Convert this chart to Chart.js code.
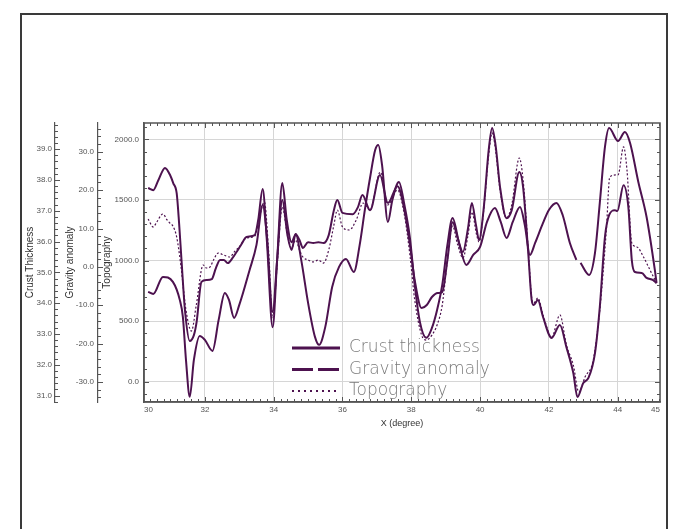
<!DOCTYPE html>
<html>
<head>
<meta charset="utf-8">
<script src="https://cdn.jsdelivr.net/npm/chart.js@4.4.1/dist/chart.umd.min.js"></script>
<style>
  html, body { margin: 0; padding: 0; background: #fff; }
  body { width: 678px; height: 529px; position: relative; overflow: hidden; }
  #frame { position: absolute; left: 20px; top: 13px; width: 644px; height: 540px;
           border: 2px solid #3a3a3a; border-bottom: none; }
  #c { position: absolute; left: 0; top: 0; }
</style>
</head>
<body>
<div id="frame"></div>
<canvas id="c" width="678" height="529"></canvas>
<script>
// Profile along the section, longitude in degrees
const crustDeg = [30.35, 30.5, 30.65, 30.84, 31.0, 31.08, 31.18, 31.25, 31.32, 31.42, 31.56, 31.68, 31.76, 31.9, 32.05, 32.2, 32.32, 32.44, 32.55, 32.67, 32.8, 32.92, 33.05, 33.21, 33.45, 33.55, 33.68, 33.8, 33.97, 34.1, 34.25, 34.38, 34.52, 34.64, 34.75, 34.85, 35.0, 35.15, 35.3, 35.45, 35.6, 35.75, 35.85, 36.0, 36.3, 36.45, 36.58, 36.8, 37.09, 37.32, 37.6, 37.8, 37.96, 38.1, 38.3, 38.45, 38.6, 38.77, 38.9, 39.05, 39.2, 39.35, 39.5, 39.65, 39.76, 39.88, 39.97, 40.1, 40.25, 40.35, 40.45, 40.58, 40.77, 40.92, 41.14, 41.25, 41.4, 41.5, 41.56, 41.68, 41.83, 42.08, 42.32, 42.51, 42.71, 42.83, 43.0, 43.15, 43.34, 43.48, 43.63, 43.75, 43.92, 43.99, 44.17, 44.31, 44.41, 44.5, 44.7, 44.84, 45.03, 45.13];
const crustKm = [37.74, 37.67, 38.00, 38.39, 38.13, 37.90, 37.57, 36.60, 35.40, 33.78, 32.77, 32.96, 33.39, 34.69, 34.75, 34.78, 35.14, 35.40, 35.40, 35.30, 35.46, 35.66, 35.89, 36.15, 36.21, 36.70, 37.71, 36.05, 33.22, 35.40, 37.90, 36.70, 35.98, 36.24, 36.05, 35.79, 35.98, 35.95, 35.98, 35.95, 36.21, 37.02, 37.35, 36.93, 36.89, 37.12, 37.51, 37.02, 38.16, 37.25, 37.80, 37.02, 35.89, 34.75, 33.84, 33.94, 34.20, 34.33, 34.36, 35.40, 36.63, 36.11, 35.66, 36.44, 37.25, 36.54, 36.05, 37.02, 38.97, 39.69, 39.13, 37.77, 36.76, 37.02, 38.26, 37.77, 35.63, 34.10, 33.94, 34.10, 33.55, 32.87, 33.29, 32.57, 31.73, 30.95, 31.41, 31.57, 32.38, 33.87, 36.15, 36.86, 37.02, 36.99, 37.83, 37.12, 35.40, 35.01, 34.98, 34.82, 34.75, 34.65];

// the gravity profile has a short break near 42.86
const gravDeg = [30.35, 30.5, 30.78, 31.07, 31.27, 31.36, 31.45, 31.56, 31.68, 31.85, 32.0, 32.22, 32.4, 32.58, 32.7, 32.85, 33.0, 33.3, 33.5, 33.68, 33.8, 33.97, 34.1, 34.25, 34.4, 34.52, 34.64, 34.8, 35.0, 35.2, 35.32, 35.5, 35.7, 35.9, 36.1, 36.33, 36.5, 36.65, 36.8, 36.95, 37.04, 37.15, 37.32, 37.45, 37.64, 37.8, 37.96, 38.1, 38.25, 38.44, 38.6, 38.75, 38.9, 39.05, 39.2, 39.4, 39.6, 39.8, 40.0, 40.2, 40.43, 40.6, 40.77, 40.95, 41.16, 41.3, 41.45, 41.6, 41.83, 42.0, 42.22, 42.4, 42.61, 42.8, 42.86, 42.92, 43.17, 43.34, 43.48, 43.63, 43.75, 44.01, 44.21, 44.36, 44.6, 44.84, 45.08, 45.13];
const gravMgal = [-6.51, -7.03, -2.60, -3.91, -8.59, -13.02, -24.22, -33.85, -24.22, -17.97, -19.01, -21.88, -13.80, -6.77, -8.59, -13.28, -9.90, -0.78, 5.73, 16.15, 8.33, -11.72, 1.82, 17.45, 8.33, 4.43, 8.59, 1.82, -9.38, -18.23, -20.31, -15.63, -5.21, 0, 2.08, -1.30, 5.73, 14.84, 23.18, 30.47, 31.77, 26.56, 11.72, 17.45, 22.14, 16.15, 7.55, -4.69, -14.32, -18.49, -15.89, -11.20, -4.69, 5.73, 12.76, 5.73, 0.52, 3.13, 5.21, 11.72, 15.36, 11.72, 7.55, 11.72, 15.63, 10.94, 3.13, 6.25, 11.46, 14.84, 16.67, 13.54, 6.25, 1.82, null, 1.04, -2.08, 3.65, 16.67, 31.25, 36.20, 32.81, 35.16, 32.29, 22.14, 13.02, -0.78, -4.17];

const topoDeg = [30.35, 30.5, 30.6, 30.78, 30.9, 30.98, 31.07, 31.18, 31.3, 31.45, 31.61, 31.75, 31.95, 32.05, 32.15, 32.25, 32.39, 32.55, 32.73, 32.85, 33.0, 33.2, 33.45, 33.6, 33.73, 33.85, 33.97, 34.1, 34.25, 34.4, 34.52, 34.64, 34.75, 34.85, 35.0, 35.15, 35.3, 35.45, 35.6, 35.75, 35.85, 36.0, 36.2, 36.4, 36.6, 36.8, 37.1, 37.32, 37.6, 37.8, 37.96, 38.1, 38.3, 38.44, 38.6, 38.75, 38.9, 39.05, 39.2, 39.35, 39.5, 39.65, 39.76, 39.9, 39.97, 40.1, 40.25, 40.35, 40.45, 40.58, 40.77, 40.92, 41.14, 41.25, 41.4, 41.5, 41.56, 41.68, 41.83, 42.08, 42.32, 42.51, 42.71, 42.87, 43.05, 43.29, 43.48, 43.67, 43.77, 43.96, 44.01, 44.17, 44.27, 44.41, 44.56, 44.75, 44.94, 45.13];
const topoM = [1343, 1277, 1318, 1384, 1335, 1310, 1285, 1194, 963, 591, 417, 632, 963, 938, 946, 1004, 1062, 1045, 1029, 1070, 1112, 1186, 1202, 1376, 1483, 1087, 525, 963, 1442, 1211, 1103, 1169, 1087, 1029, 1004, 988, 1004, 979, 1087, 1293, 1417, 1277, 1252, 1335, 1475, 1417, 1731, 1459, 1583, 1376, 1045, 674, 384, 343, 384, 467, 632, 1004, 1285, 1128, 1021, 1211, 1401, 1211, 1153, 1401, 1872, 2054, 1913, 1583, 1351, 1459, 1847, 1665, 1087, 690, 649, 690, 550, 368, 550, 302, 136, -87, 37, 178, 591, 1252, 1690, 1707, 1707, 1938, 1748, 1145, 1112, 1029, 921, 814];

const seriesNames = ['Crust thickness', 'Gravity anomaly', 'Topography'];
const xTickValues = [32, 34, 36, 38, 40, 42, 44];
const xTickLabels = ['30', '32', '34', '36', '38', '40', '42', '44', '45'];
const crustTicks = [31, 32, 33, 34, 35, 36, 37, 38, 39];
const gravTicks = [-30, -20, -10, 0, 10, 20, 30];
const topoTicks = [0, 500, 1000, 1500, 2000];

const LINE = '#4d124f';
const toPoints = (xs, ys) => xs.map((x, i) => ({ x, y: ys[i] }));
const fixedTicks = values => s => { s.ticks = values.map(v => ({ value: v })); };

// Inward tick marks (major + minor) on every axis line and on the top/right frame
const tickMarks = {
  id: 'tickMarks',
  afterDraw(chart) {
    const { ctx, chartArea: a, scales } = chart;
    ctx.save();
    ctx.strokeStyle = '#555';
    ctx.lineWidth = 1;
    const vTicks = (scale, step, perMajor, xLine, dir) => {
      const first = Math.ceil(scale.min / step - 1e-9);
      const last = Math.floor(scale.max / step + 1e-9);
      for (let k = first; k <= last; k++) {
        const y = Math.round(scale.getPixelForValue(k * step)) + 0.5;
        const len = (k % perMajor === 0) ? 5 : 3;
        ctx.beginPath(); ctx.moveTo(xLine, y); ctx.lineTo(xLine + dir * len, y); ctx.stroke();
      }
    };
    const hTicks = (scale, step, perMajor, yLine, dir) => {
      const first = Math.ceil(scale.min / step - 1e-9);
      const last = Math.floor(scale.max / step + 1e-9);
      for (let k = first; k <= last; k++) {
        const x = Math.round(scale.getPixelForValue(k * step)) + 0.5;
        const len = (k % perMajor === 0) ? 5 : 3;
        ctx.beginPath(); ctx.moveTo(x, yLine); ctx.lineTo(x, yLine + dir * len); ctx.stroke();
      }
    };
    vTicks(scales.yCrust, 0.2, 5, scales.yCrust.right, 1);
    vTicks(scales.yGrav, 2, 5, scales.yGrav.right, 1);
    vTicks(scales.yTopo, 100, 5, a.left, 1);
    vTicks(scales.yTopo, 100, 5, a.right, -1);
    hTicks(scales.x, 0.2, 10, a.bottom, -1);
    hTicks(scales.x, 0.2, 10, a.top, 1);
    ctx.strokeStyle = '#555';
    ctx.lineWidth = 1.5;
    ctx.strokeRect(a.left, a.top, a.right - a.left, a.bottom - a.top);
    ctx.restore();
  }
};

// Legend drawn inside the plot, below the curves
const insideLegend = {
  id: 'insideLegend',
  afterDatasetsDraw(chart) {
    const { ctx, chartArea: a } = chart;
    const x0 = a.left + 148, len = 48, textX = x0 + len + 9;
    const y0 = a.bottom - 54, dy = 21.5;
    chart.data.datasets.forEach((ds, i) => {
      const y = y0 + i * dy;
      ctx.save();
      ctx.strokeStyle = ds.borderColor;
      ctx.lineWidth = ds.legendWidth;
      ctx.setLineDash(ds.legendDash);
      ctx.beginPath(); ctx.moveTo(x0, y); ctx.lineTo(x0 + len, y); ctx.stroke();
      ctx.setLineDash([]);
      ctx.fillStyle = '#7a7a7a';
      ctx.font = "200 17px 'DejaVu Sans'";
      ctx.textBaseline = 'middle';
      ctx.textAlign = 'left';
      ctx.fillText(ds.label, textX, y);
      ctx.restore();
    });
  }
};

const tickFont = { family: "'Liberation Sans', Arial, sans-serif", size: 8 };
const titleFont = { family: "'Liberation Sans', Arial, sans-serif", size: 10 };

new Chart(document.getElementById('c'), {
  type: 'line',
  data: {
    datasets: [
      { label: seriesNames[0], data: toPoints(crustDeg, crustKm), yAxisID: 'yCrust',
        borderColor: LINE, borderWidth: 2, borderDash: [],
        legendWidth: 3, legendDash: [] },
      { label: seriesNames[1], data: toPoints(gravDeg, gravMgal), yAxisID: 'yGrav',
        borderColor: LINE, borderWidth: 2, borderDash: [], spanGaps: false,
        legendWidth: 3, legendDash: [21, 5] },
      { label: seriesNames[2], data: toPoints(topoDeg, topoM), yAxisID: 'yTopo',
        borderColor: LINE, borderWidth: 1.2, borderDash: [2, 2],
        legendWidth: 2.2, legendDash: [2, 4] }
    ]
  },
  options: {
    responsive: false,
    animation: false,
    layout: { padding: { left: 21, top: 123, right: 18, bottom: 87 } },
    elements: {
      point: { radius: 0 },
      line: { cubicInterpolationMode: 'monotone', fill: false }
    },
    plugins: { legend: { display: false }, tooltip: { enabled: false } },
    scales: {
      x: {
        type: 'linear', min: 30.23, max: 45.23,
        afterBuildTicks: s => {
          s.ticks = [s.min, ...xTickValues, s.max].map(v => ({ value: v }));
        },
        afterFit: s => { s.height = 40; },
        ticks: { align: 'inner', padding: 3, color: '#555', font: tickFont, maxRotation: 0,
                 callback: (v, i) => xTickLabels[i] },
        grid: { color: '#d6d6d6', drawTicks: false },
        border: { color: '#555', width: 1.5 },
        title: { display: true, text: 'X (degree)', color: '#333',
                 font: { family: "'Liberation Sans', Arial, sans-serif", size: 9 },
                 padding: { top: 0, bottom: 12.6 } }
      },
      yTopo: {
        position: 'left', weight: 1, min: -169, max: 2136,
        afterBuildTicks: fixedTicks(topoTicks),
        afterFit: s => { s.width = 46; },
        ticks: { padding: 5, color: '#555', font: tickFont, callback: v => v.toFixed(1) },
        grid: { color: '#d6d6d6', drawTicks: false },
        border: { color: '#555', width: 1.5 },
        title: { display: true, text: 'Topography', color: '#333', font: titleFont,
                 padding: { top: 3.3, bottom: 0 } }
      },
      yGrav: {
        position: 'left', weight: 2, min: -35.2, max: 37.5,
        afterBuildTicks: fixedTicks(gravTicks),
        afterFit: s => { s.width = 43; },
        ticks: { padding: 4, color: '#555', font: tickFont, callback: v => v.toFixed(1) },
        grid: { display: false, drawTicks: false },
        border: { color: '#555', width: 1.2 },
        title: { display: true, text: 'Gravity anomaly', color: '#333', font: titleFont,
                 padding: { top: 9, bottom: 0 } }
      },
      yCrust: {
        position: 'left', weight: 3, min: 30.79, max: 39.85,
        afterBuildTicks: fixedTicks(crustTicks),
        afterFit: s => { s.width = 34; },
        ticks: { padding: 3, color: '#555', font: tickFont, callback: v => v.toFixed(1) },
        grid: { display: false, drawTicks: false },
        border: { color: '#555', width: 1.2 },
        title: { display: true, text: 'Crust Thickness', color: '#333', font: titleFont,
                 padding: { top: 3, bottom: 0 } }
      }
    }
  },
  plugins: [tickMarks, insideLegend]
});
</script>
</body>
</html>
